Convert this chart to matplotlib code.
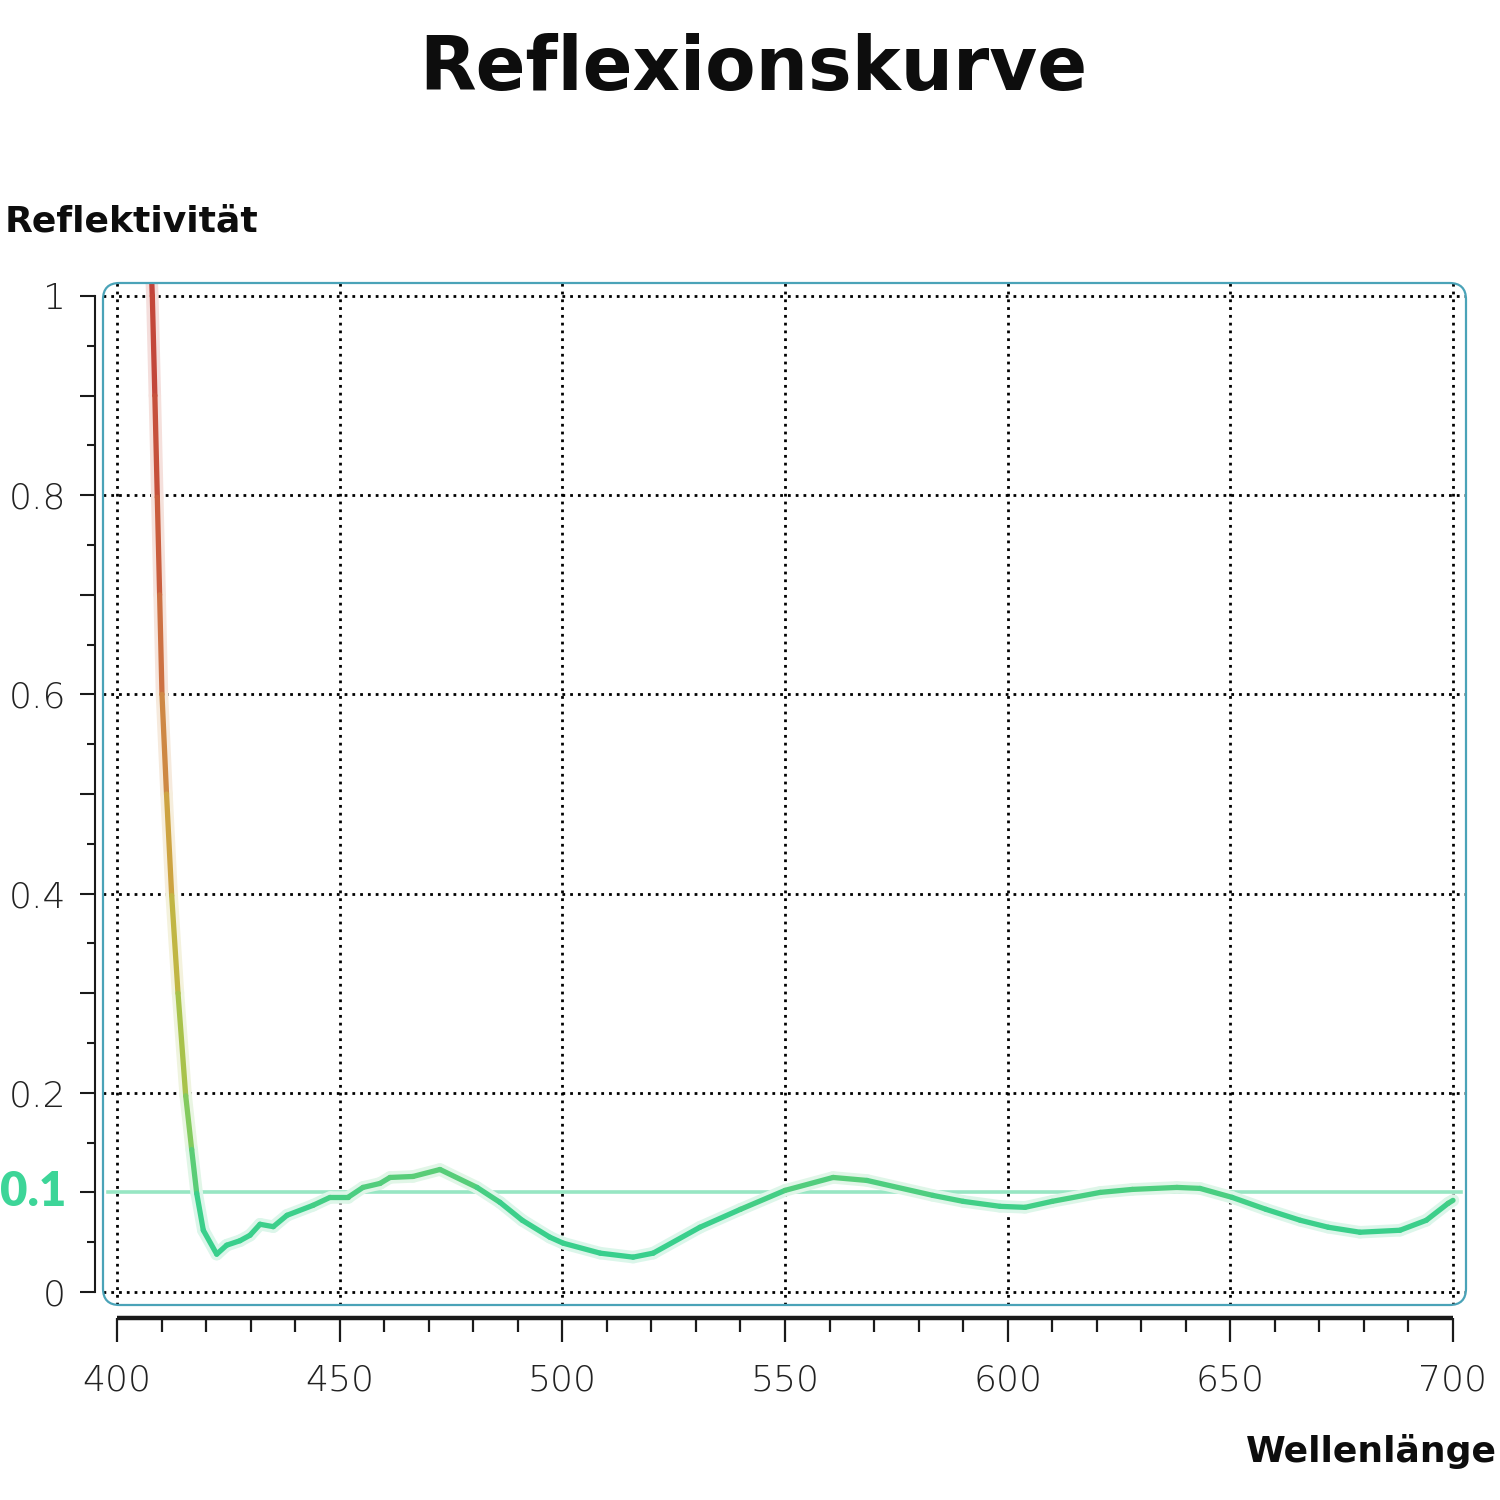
import numpy as np
import matplotlib
matplotlib.use("Agg")
import matplotlib.pyplot as plt
from matplotlib.collections import LineCollection
from matplotlib.colors import LinearSegmentedColormap, Normalize
from matplotlib.patches import FancyBboxPatch
from matplotlib.ticker import MultipleLocator
from matplotlib.transforms import blended_transform_factory

# ---------------- data ----------------
wavelength = [407.79, 407.93, 408.5, 409.05, 409.57, 410.10, 411.12, 412.28, 413.7,
              415.43, 416.77, 417.90, 419.38, 422.39, 424.63, 427.62, 429.87, 432.11,
              435.10, 438.17, 444.01, 447.83, 451.87, 455.24, 459.06, 461.30, 466.47,
              472.53, 480.84, 486.0, 491.0, 497.2, 500.2, 508.5, 515.9, 520.4, 530.9,
              540.0, 550.0, 560.8, 568.4, 583.2, 590.0, 598.3, 603.9, 610.0, 620.8,
              628.0, 638.0, 643.2, 650.4, 658.0, 665.7, 672.0, 679.1, 688.1, 694.0,
              698.9, 700.0]
reflectance = [1.016, 1.000, 0.900, 0.798, 0.700, 0.600, 0.500, 0.398, 0.300,
               0.197, 0.143, 0.099, 0.062, 0.038, 0.047, 0.0515, 0.057, 0.068,
               0.0656, 0.077, 0.087, 0.095, 0.095, 0.105, 0.109, 0.115, 0.116,
               0.123, 0.105, 0.090, 0.072, 0.055, 0.049, 0.039, 0.035, 0.039, 0.065,
               0.083, 0.102, 0.115, 0.112, 0.097, 0.091, 0.086, 0.085, 0.091, 0.100,
               0.103, 0.105, 0.104, 0.095, 0.083, 0.072, 0.065, 0.060, 0.062, 0.072,
               0.089, 0.092]

x_ticks = [400, 450, 500, 550, 600, 650, 700]
x_tick_labels = ["400", "450", "500", "550", "600", "650", "700"]
y_ticks = [0.0, 0.2, 0.4, 0.6, 0.8, 1.0]
y_tick_labels = ["0", "0.2", "0.4", "0.6", "0.8", "1"]
target_value = 0.1
target_label = "0.1"
title = "Reflexionskurve"
y_label = "Reflektivität"
x_label = "Wellenlänge"

# ---------------- layout helpers ----------------
W = H = 1500
fig = plt.figure(figsize=(15, 15), dpi=100)
fig.patch.set_facecolor("white")


def fx(px):
    return px / W


def fy(py):
    return 1 - py / H


box_l, box_r, box_t, box_b = 103, 1466, 283, 1305
ax = fig.add_axes([fx(box_l), fy(box_b), (box_r - box_l) / W, (box_b - box_t) / H])
ax.patch.set_visible(False)

px_per_nm = (1453 - 117) / 300.0
ax.set_xlim(400 - (117 - box_l) / px_per_nm, 700 + (box_r - 1453) / px_per_nm)
px_per_unit = 1292 - 296
ax.set_ylim(-(box_b - 1292) / px_per_unit, 1 + (296 - box_t) / px_per_unit)

BOLD = ["DejaVu Sans"]
LIGHT = ["DejaVu Sans"]
txt_col = "#1a1a1a"

# ---------------- spines & ticks ----------------
for s in ["top", "right"]:
    ax.spines[s].set_visible(False)
ax.spines["left"].set_position(("outward", (box_l - 95) * 0.72))
ax.spines["left"].set_bounds(0, 1)
ax.spines["left"].set_linewidth(1.5)
ax.spines["left"].set_color(txt_col)
ax.spines["bottom"].set_position(("outward", (1318 - box_b) * 0.72))
ax.spines["bottom"].set_bounds(400, 700)
ax.spines["bottom"].set_linewidth(3.2)
ax.spines["bottom"].set_color(txt_col)
ax.spines["bottom"].set_capstyle("butt")

ax.set_xticks(x_ticks)
ax.set_xticklabels(x_tick_labels)
ax.xaxis.set_minor_locator(MultipleLocator(10))

y_major = [round(v, 1) for v in np.arange(0, 1.0001, 0.1)]
lab_map = dict(zip([round(v, 1) for v in y_ticks], y_tick_labels))
ax.set_yticks(y_major)
ax.set_yticklabels([lab_map.get(v, "") for v in y_major])
ax.yaxis.set_minor_locator(MultipleLocator(0.05))

ax.tick_params(axis="x", which="major", length=17, width=1.6, pad=16,
               labelsize=26, colors=txt_col)
ax.tick_params(axis="x", which="minor", length=10, width=1.6, colors=txt_col)
ax.tick_params(axis="y", which="major", length=10.8, width=1.5, pad=10,
               labelsize=26, colors=txt_col)
ax.tick_params(axis="y", which="minor", length=5.8, width=1.5, colors=txt_col)
for lab in ax.get_xticklabels() + ax.get_yticklabels():
    lab.set_family(LIGHT)
    lab.set_fontweight("light")
    lab.set_color("#222222")

# ---------------- grid ----------------
dot = (0, (1, 1.8))
for v in x_ticks:
    ax.axvline(v, color="black", lw=2.0, ls=dot, zorder=1)
for v in y_ticks:
    ax.axhline(v, color="black", lw=2.0, ls=dot, zorder=1)

# target line
ax.axhline(target_value, xmin=0.004, xmax=0.996, color="#97e6c3", lw=2.6, zorder=2)

# ---------------- gradient curve ----------------
cmap = LinearSegmentedColormap.from_list(
    "refl",
    [(0.0, "#35cf8f"), (0.08, "#3ccf8a"), (0.2, "#9cc84e"), (0.4, "#cdb040"),
     (0.6, "#cf7a45"), (0.8, "#c8553c"), (1.0, "#c2433a")])
pts = np.column_stack([wavelength, reflectance])
segs = np.stack([pts[:-1], pts[1:]], axis=1)
mid = (pts[:-1, 1] + pts[1:, 1]) / 2
cols = cmap(Normalize(0, 1)(mid))
glow_cols = cols.copy()
glow_cols[:, :3] = 1 - 0.18 * (1 - cols[:, :3])
glow = LineCollection(segs, colors=glow_cols, linewidths=9,
                      capstyle="round", joinstyle="round", zorder=3)
ax.add_collection(glow)
lc = LineCollection(segs, colors=cols, linewidths=3.8,
                    capstyle="round", joinstyle="round", zorder=4)
ax.add_collection(lc)

# ---------------- rounded frame ----------------
frame = FancyBboxPatch((fx(box_l), fy(box_b)), (box_r - box_l) / W, (box_b - box_t) / H,
                       boxstyle="round,pad=0,rounding_size=0.011",
                       transform=fig.transFigure, facecolor="none",
                       edgecolor="#4aa3b8", linewidth=1.6, zorder=5)
fig.add_artist(frame)

# ---------------- texts ----------------
fig.text(fx(753), fy(90), title, ha="center", va="baseline", fontsize=53,
         fontweight="bold", family=BOLD, color="#0d0d0d")
fig.text(fx(5), fy(232), y_label, ha="left", va="baseline", fontsize=26,
         fontweight="bold", family=BOLD, color="#0d0d0d")
fig.text(fx(1497), fy(1462), x_label, ha="right", va="baseline", fontsize=26,
         fontweight="bold", family=BOLD, color="#0d0d0d")

tr = blended_transform_factory(fig.transFigure, ax.transData)
ax.text(fx(66), target_value, target_label, transform=tr, ha="right", va="center",
        fontsize=34, fontweight="heavy", family=["Lato", "DejaVu Sans"],
        color="#3dd598", clip_on=False)

fig.savefig("out.png", dpi=100, facecolor="white")
